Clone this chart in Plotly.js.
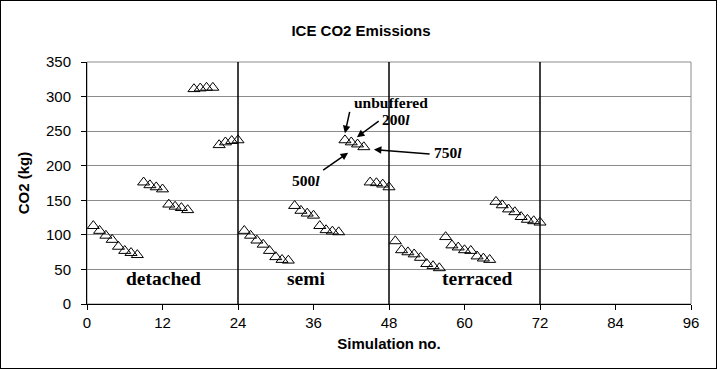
<!DOCTYPE html>
<html>
<head>
<meta charset="utf-8">
<script src="https://cdn.plot.ly/plotly-3.0.1.min.js"></script>
<style>
html,body{margin:0;padding:0;background:#fff;}
#wrap{position:relative;width:722px;height:370px;}
#chart{position:absolute;left:0;top:0;width:722px;height:370px;}
#frame{position:absolute;left:0;top:0;width:715px;height:367px;border:1px solid #000;pointer-events:none;}
</style>
</head>
<body>
<div id="wrap"><div id="chart"></div><div id="frame"></div></div>
<script>
// Simulation numbers and CO2 (kg) per house type
const detachedX = [1,2,3,4,5,6,7,8,9,10,11,12,13,14,15,16,17,18,19,20,21,22,23,24];
const detachedY = [113,106,99,93,83,77,74,71,176,172,169,166,144,141,139,136,311,312,313,313,230,234,236,237];
const semiX = [25,26,27,28,29,30,31,32,33,34,35,36,37,38,39,40,41,42,43,44,45,46,47,48];
const semiY = [106,99,92,86,77,68,64,63,142,135,131,128,113,107,105,104,237,234,231,227,176,175,173,169];
const terracedX = [49,50,51,52,53,54,55,56,57,58,59,60,61,62,63,64,65,66,67,68,69,70,71,72];
const terracedY = [91,78,75,72,67,58,55,52,97,85,82,78,77,69,66,64,148,143,137,133,126,122,120,118];

const dividers = [24,48,72];
const xTicks = [0,12,24,36,48,60,72,84,96];
const yTicks = [0,50,100,150,200,250,300,350];

const groupLabels = ['detached','semi','terraced'];
const groupLabelX = [12.2,34.8,62];
const groupLabelY = [37,37,37];

// buffer size labels: text position and arrow (tail -> head)
const bufLabels = ['unbuffered','200<i>l</i>','750<i>l</i>','500<i>l</i>'];
const bufTextX = [48.3,49.1,57.3,34.8];
const bufTextY = [291,267,218.6,178];
const arrowTailX = [41.8,46.6,54.7,37.3];
const arrowTailY = [280,266,216.7,192];
const arrowHeadX = [41.0,42.9,45.6,41.5];
const arrowHeadY = [247,241.3,223.5,218.8];

const serif = '"Liberation Serif", "Times New Roman", serif';
const sans = '"Liberation Sans", Arial, sans-serif';

const markerStyle = {symbol:'triangle-up-open', size:10.5, color:'#000', line:{width:1, color:'#000'}};
const traces = [
  {x:detachedX, y:detachedY, name:'detached'},
  {x:semiX, y:semiY, name:'semi'},
  {x:terracedX, y:terracedY, name:'terraced'}
].map(t => Object.assign(t, {type:'scatter', mode:'markers', marker:markerStyle, hoverinfo:'x+y'}));

const shapes = [{type:'rect', xref:'paper', yref:'paper', x0:0, x1:1, y0:0, y1:1, line:{color:'#8c8c8c', width:1}, layer:'below'}];
dividers.forEach(d => shapes.push({type:'line', xref:'x', yref:'paper', x0:d, x1:d, y0:0, y1:1, line:{color:'#000', width:1.5}}));

const annotations = [];
groupLabels.forEach((g,i) => annotations.push({
  text:'<b>'+g+'</b>', x:groupLabelX[i], y:groupLabelY[i], xref:'x', yref:'y', showarrow:false,
  font:{family:serif, size:19.5, color:'#000'}
}));
bufLabels.forEach((b,i) => {
  annotations.push({text:'<b>'+b+'</b>', x:bufTextX[i], y:bufTextY[i], xref:'x', yref:'y', showarrow:false,
    font:{family:serif, size:15.5, color:'#000'}});
  annotations.push({text:'', x:arrowHeadX[i], y:arrowHeadY[i], ax:arrowTailX[i], ay:arrowTailY[i],
    xref:'x', yref:'y', axref:'x', ayref:'y', showarrow:true, arrowhead:2, arrowsize:1, arrowwidth:1.5, arrowcolor:'#000'});
});

const layout = {
  width:722, height:370,
  margin:{l:87, r:31, t:62, b:66},
  paper_bgcolor:'#fff', plot_bgcolor:'#fff',
  showlegend:false,
  title:{text:'<b>ICE CO2 Emissions</b>', x:0.5, xref:'container', xanchor:'center', y:0.918, yref:'container', yanchor:'middle',
    font:{family:sans, size:15, color:'#000'}},
  xaxis:{range:[0,96], tickvals:xTicks, ticktext:xTicks.map(String), ticks:'outside', ticklen:5, tickcolor:'#000', tickwidth:1,
    showline:true, linecolor:'#000', linewidth:1, showgrid:false, zeroline:false,
    tickfont:{family:sans, size:15, color:'#000'},
    title:{text:'<b>Simulation no.</b>', font:{family:sans, size:15, color:'#000'}, standoff:8}},
  yaxis:{range:[0,350], tickvals:yTicks, ticktext:yTicks.map(String), ticks:'outside', ticklen:5, tickcolor:'#000', tickwidth:1,
    ticklabelstandoff:7,
    showline:true, linecolor:'#000', linewidth:1, showgrid:true, gridcolor:'#8c8c8c', gridwidth:1, zeroline:false,
    tickfont:{family:sans, size:15, color:'#000'},
    title:{text:'<b>CO2 (kg)</b>', font:{family:sans, size:15, color:'#000'}, standoff:12}},
  shapes:shapes,
  annotations:annotations
};

Plotly.newPlot('chart', traces, layout, {staticPlot:true, displayModeBar:false});
</script>
</body>
</html>
